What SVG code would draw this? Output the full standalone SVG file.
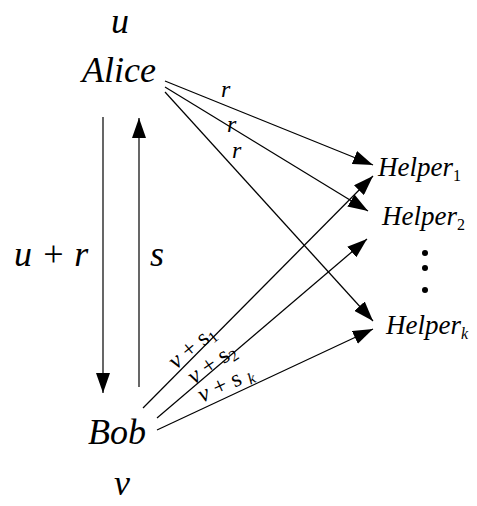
<svg xmlns="http://www.w3.org/2000/svg" width="477" height="506" viewBox="0 0 477 506">
<style>
.t{font-family:"Liberation Serif","Times New Roman",serif;font-style:italic;fill:#000}
.n{font-family:"Liberation Serif","Times New Roman",serif;font-style:normal;fill:#000}
.big{font-size:36px}
.h{font-size:27px}
.sub{font-size:16px}
.lab{font-size:24px}
.e{stroke:#000;stroke-width:1.2;fill:none}
</style>
<defs>
<marker id="ah" markerUnits="userSpaceOnUse" markerWidth="20" markerHeight="14" refX="20" refY="7" orient="auto">
<path d="M0,0 L20,7 L0,14 z" fill="#000"/>
</marker>
</defs>
<rect width="477" height="506" fill="#fff"/>
<g id="edges">
<line class="e" x1="103" y1="117" x2="103" y2="393" marker-end="url(#ah)"/>
<line class="e" x1="139" y1="387" x2="139" y2="118" marker-end="url(#ah)"/>
<line class="e" x1="165" y1="81" x2="373" y2="165" marker-end="url(#ah)"/>
<line class="e" x1="165" y1="87" x2="368" y2="211" marker-end="url(#ah)"/>
<line class="e" x1="165" y1="92" x2="373" y2="321" marker-end="url(#ah)"/>
<line class="e" x1="143" y1="408" x2="373" y2="176" marker-end="url(#ah)"/>
<line class="e" x1="157" y1="418" x2="367" y2="239" marker-end="url(#ah)"/>
<line class="e" x1="157" y1="430" x2="373" y2="329" marker-end="url(#ah)"/>
<text class="t big" x="14" y="266">u + r</text>
<text class="t big" x="150" y="266">s</text>
<text class="t lab" x="221" y="97">r</text>
<text class="t lab" x="227" y="132">r</text>
<text class="t lab" x="232" y="158">r</text>
<text class="lab" transform="translate(176,370) rotate(-40)"><tspan class="t">v</tspan><tspan class="n"> + s</tspan><tspan class="n sub" dy="4">1</tspan></text>
<text class="lab" transform="translate(194,385) rotate(-35)"><tspan class="t">v</tspan><tspan class="n"> + s</tspan><tspan class="n sub" dy="4">2</tspan></text>
<text class="lab" transform="translate(202,403) rotate(-25)"><tspan class="t">v</tspan><tspan class="n"> + s </tspan><tspan class="t sub" dy="4">k</tspan></text>
</g>
<g id="alice">
<text class="t big" x="120" y="33" text-anchor="middle">u</text>
<text class="t big" x="82" y="82">Alice</text>
</g>
<g id="bob">
<text class="t big" x="88" y="444">Bob</text>
<text class="t big" x="122" y="495" text-anchor="middle">v</text>
</g>
<g id="helper1"><text class="t h" x="378" y="176">Helper<tspan class="n sub" dy="5">1</tspan></text></g>
<g id="helper2"><text class="t h" x="382" y="225">Helper<tspan class="n sub" dy="5">2</tspan></text></g>
<g id="dots"><circle cx="425" cy="253" r="3"/><circle cx="425" cy="268" r="3"/><circle cx="425" cy="290" r="3"/></g>
<g id="helperk"><text class="t h" x="386" y="334">Helper<tspan class="t sub" dy="5">k</tspan></text></g>
</svg>
